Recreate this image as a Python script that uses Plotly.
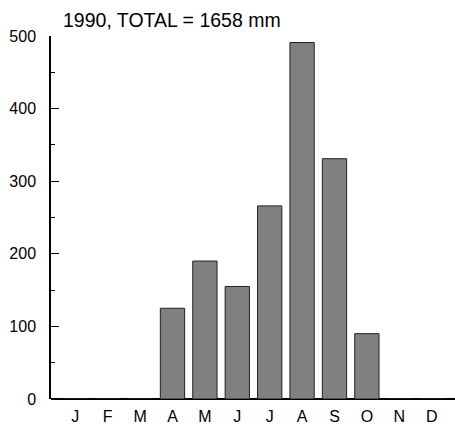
import plotly.graph_objects as go

# Monthly rainfall, 1990 (mm)
months = ["J", "F", "M", "A", "M", "J", "J", "A", "S", "O", "N", "D"]
rainfall = [0, 0, 0, 125, 190, 155, 266, 491, 331, 90, 0, 0]
year = 1990
total_mm = 1658
y_ticks = [0, 100, 200, 300, 400, 500]

FONT = "Arial, Liberation Sans, sans-serif"

x_idx = list(range(len(months)))

fig = go.Figure(
    go.Bar(
        x=x_idx,
        y=rainfall,
        width=0.75,
        marker=dict(color="#808080", line=dict(color="#222222", width=1)),
        hoverinfo="skip",
    )
)

fig.update_layout(
    width=455,
    height=425,
    margin=dict(l=51, r=0, t=36, b=26),
    plot_bgcolor="white",
    paper_bgcolor="white",
    showlegend=False,
    font=dict(family=FONT, size=16, color="black"),
    title=dict(
        text=f"{year}, TOTAL = {total_mm} mm",
        x=63 / 455,
        xanchor="left",
        xref="container",
        y=1 - 20 / 425,
        yanchor="middle",
        yref="container",
        font=dict(family=FONT, size=19.5, color="black"),
    ),
)

fig.update_xaxes(
    range=[-0.75, 11.72],
    tickmode="array",
    tickvals=x_idx,
    ticktext=months,
    showgrid=False,
    zeroline=False,
    showline=False,
    ticks="",
    tickfont=dict(size=16),
    ticklabelstandoff=6,
    fixedrange=True,
)

fig.update_yaxes(
    range=[0, 500],
    tickmode="array",
    tickvals=y_ticks,
    showgrid=False,
    zeroline=True,
    zerolinecolor="black",
    zerolinewidth=2,
    showline=True,
    linecolor="black",
    linewidth=1.5,
    ticks="inside",
    ticklen=8,
    tickwidth=1,
    tickcolor="black",
    minor=dict(dtick=50, ticks="inside", ticklen=4, tickwidth=1, tickcolor="black"),
    ticklabelstandoff=10,
    tickfont=dict(size=16),
    fixedrange=True,
)

fig.write_html("out.html")
